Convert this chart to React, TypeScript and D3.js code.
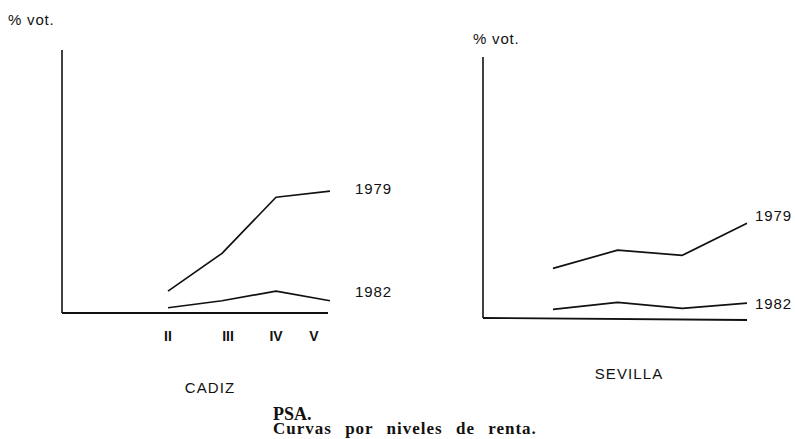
import * as d3 from 'd3';

// Income levels (niveles de renta)
const cadizLevels = ['II', 'III', 'IV', 'V'];
const cadiz1979 = [2.5, 6.8, 13.2, 13.9];
const cadiz1982 = [0.6, 1.4, 2.5, 1.4];

const sevillaLevels = ['II', 'III', 'IV', 'V'];
const sevilla1979 = [5.7, 7.8, 7.2, 10.9];
const sevilla1982 = [1.0, 1.8, 1.1, 1.7];

const seriesNames = ['1979', '1982'];

const W = 795;
const H = 439;
const font = "'Liberation Sans', Arial, sans-serif";
const serif = "'Liberation Serif', 'DejaVu Serif', serif";
const ink = '#111';

function Panel({ levels, s79, s82, axis, plot, name, namePos, unitPos, showTicks, tickShift }) {
  const x = d3.scalePoint<string>().domain(levels).range([plot.x0, plot.x1]);
  const y = d3.scaleLinear().domain([0, 30]).range([axis.bottom, axis.top]);
  const line = d3.line<number>()
    .x((_, i) => x(levels[i]) as number)
    .y(d => y(d));

  const series = [s79, s82];

  return (
    <g>
      <text x={unitPos[0]} y={unitPos[1]} fontSize={15} letterSpacing={0.8} fontFamily={font} fill={ink}>% vot.</text>
      {/* axes */}
      <line x1={axis.left} x2={axis.left} y1={axis.top} y2={axis.bottom} stroke={ink} strokeWidth={1.6} />
      <line x1={axis.left} x2={axis.right} y1={axis.bottom} y2={axis.bottom + (axis.tilt || 0)} stroke={ink} strokeWidth={1.8} />
      {series.map((s, k) => (
        <path key={k} d={line(s) || ''} fill="none" stroke={ink} strokeWidth={1.7} strokeLinejoin="round" />
      ))}
      {series.map((s, k) => (
        <text key={'l' + k} x={plot.labelX} y={y(s[s.length - 1]) + (k === 0 ? plot.dy79 : plot.dy82)}
          fontSize={15} letterSpacing={0.9} fontFamily={font} fill={ink}>{seriesNames[k]}</text>
      ))}
      {showTicks && levels.map((lv, i) => (
        <text key={lv} x={(x(lv) as number) + tickShift[i]} y={axis.bottom + 28} textAnchor="middle"
          fontSize={14} fontWeight="bold" fontFamily={font} fill={ink}>{lv}</text>
      ))}
      <text x={namePos[0]} y={namePos[1]} textAnchor="middle" fontSize={15} letterSpacing={1.1} fontFamily={font} fill={ink}>{name}</text>
    </g>
  );
}

export default function App() {
  return (
    <svg width={W} height={H} style={{ display: 'block', position: 'absolute', left: 0, top: 0, background: '#fff' }}>
      <rect width={W} height={H} fill="#fff" />
      <Panel
        levels={cadizLevels} s79={cadiz1979} s82={cadiz1982}
        axis={{ left: 62, right: 328, top: 50, bottom: 313 }}
        plot={{ x0: 168, x1: 330, labelX: 355, dy79: 3, dy82: -4 }}
        name="CADIZ" namePos={[210, 393]} unitPos={[8, 25]}
        showTicks tickShift={[0, 6, 0, -16]}
      />
      <Panel
        levels={sevillaLevels} s79={sevilla1979} s82={sevilla1982}
        axis={{ left: 483, right: 747, top: 57, bottom: 318, tilt: 2 }}
        plot={{ x0: 553, x1: 747, labelX: 755, dy79: -2, dy82: 6 }}
        name="SEVILLA" namePos={[629, 379]} unitPos={[473, 44]}
        showTicks={false} tickShift={[0, 0, 0, 0]}
      />
      <text x={273} y={420} fontSize={18} fontWeight="bold" fontFamily={serif} fill={ink}>PSA.</text>
      <text x={273} y={434} fontSize={17} fontWeight="bold" fontFamily={serif} fill={ink}
        letterSpacing={1} wordSpacing={8}>Curvas por niveles de renta.</text>
    </svg>
  );
}
